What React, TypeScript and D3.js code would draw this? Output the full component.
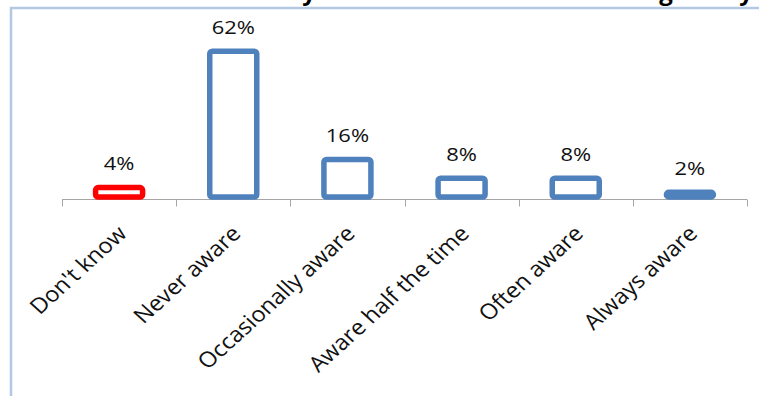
import React from "react";
import * as d3 from "d3";

const categories: string[] = [
  "Don't know",
  "Never aware",
  "Occasionally aware",
  "Aware half the time",
  "Often aware",
  "Always aware",
];
const values: number[] = [4, 62, 16, 8, 8, 2];
const valueLabels: string[] = ["4%", "62%", "16%", "8%", "8%", "2%"];
const barColors: string[] = ["#ff0000", "#4f81bd", "#4f81bd", "#4f81bd", "#4f81bd", "#4f81bd"];
// Descender glyphs of the clipped title line along the top edge
const titleGlyphs: { ch: string; x: number }[] = [
  { ch: "y", x: 309 },
  { ch: "g", x: 666 },
  { ch: "y", x: 746 },
];

const W = 759;
const H = 396;
const FONT = "'Open Sans', 'DejaVu Sans', sans-serif";
const VALUE_STRETCH = 1.22;
const LABEL_STRETCH = 1.1;

export default function App() {
  const x = d3.scaleBand<string>().domain(categories).range([62, 747]).paddingInner(0).paddingOuter(0);
  const y = d3.scaleLinear().domain([0, 70]).range([197, 32.5]);
  const bw = 47;
  const axisY = 199.5;
  const ticks = d3.range(categories.length + 1).map((i) => 62 + i * x.step());

  return (
    <svg
      width={W}
      height={H}
      style={{ position: "absolute", left: 0, top: 0, background: "#fff" }}
    >
      <rect x={0} y={0} width={W} height={H} fill="#fff" />
      {titleGlyphs.map((g, i) => (
        <text
          key={i}
          x={g.x}
          y={-0.5}
          textAnchor="middle"
          fontFamily={FONT}
          fontWeight={700}
          fontSize={24}
          fill="#000"
        >
          {g.ch}
        </text>
      ))}
      {/* chart frame */}
      <path d={`M11,${H + 5} V8 H${W + 5}`} fill="none" stroke="#b3c8e2" strokeWidth={2.5} />

      {/* category axis */}
      <line x1={62} x2={747} y1={axisY} y2={axisY} stroke="#a6a6a6" strokeWidth={1} />
      {ticks.map((t, i) => (
        <line key={i} x1={Math.round(t) + 0.5} x2={Math.round(t) + 0.5} y1={axisY} y2={206.5} stroke="#a6a6a6" strokeWidth={1} />
      ))}

      {categories.map((c, i) => {
        const cx = (x(c) as number) + x.bandwidth() / 2;
        const top = y(values[i]);
        return (
          <g key={c}>
            <rect
              x={cx - bw / 2}
              y={top}
              width={bw}
              height={y(0) - top}
              rx={2.5}
              fill="#fff"
              stroke={barColors[i]}
              strokeWidth={5.5}
            />
            <text
              transform={`translate(${cx},${top - 17.5}) scale(${VALUE_STRETCH},1)`}
              textAnchor="middle"
              fontFamily={FONT}
              fontSize={18}
              fill="#111"
            >
              {valueLabels[i]}
            </text>
            <text
              transform={`translate(${cx + 9},235) scale(${LABEL_STRETCH},1) rotate(-45)`}
              textAnchor="end"
              fontFamily={FONT}
              fontSize={21.5}
              fill="#111"
            >
              {c}
            </text>
          </g>
        );
      })}
    </svg>
  );
}
